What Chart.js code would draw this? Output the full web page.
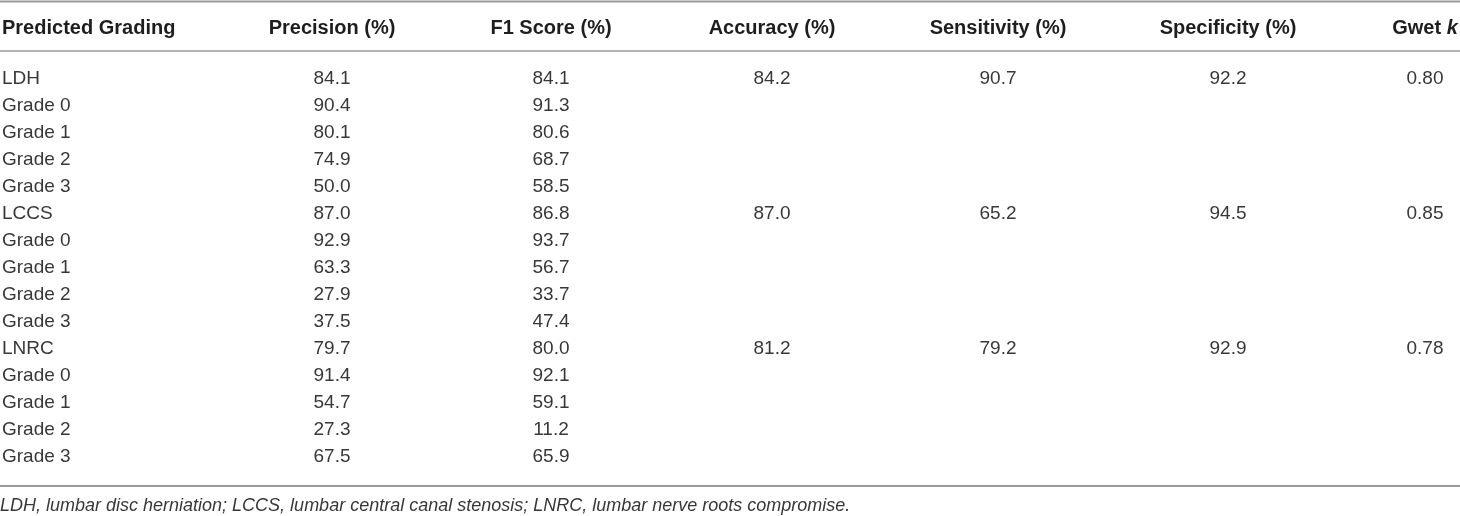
<!DOCTYPE html>
<html>
<head>
<meta charset="utf-8">
<script src="https://cdn.jsdelivr.net/npm/chart.js@4.4.0/dist/chart.umd.min.js"></script>
<style>
  html, body { margin: 0; padding: 0; background: #fff; }
  #wrap { width: 1460px; height: 516px; position: relative; }
</style>
</head>
<body>
<div id="wrap"><canvas id="table"></canvas></div>
<script>
// table data
const rowLabels = ['LDH','Grade 0','Grade 1','Grade 2','Grade 3',
                   'LCCS','Grade 0','Grade 1','Grade 2','Grade 3',
                   'LNRC','Grade 0','Grade 1','Grade 2','Grade 3'];
const precision = [84.1, 90.4, 80.1, 74.9, 50.0, 87.0, 92.9, 63.3, 27.9, 37.5, 79.7, 91.4, 54.7, 27.3, 67.5];
const f1Score   = [84.1, 91.3, 80.6, 68.7, 58.5, 86.8, 93.7, 56.7, 33.7, 47.4, 80.0, 92.1, 59.1, 11.2, 65.9];
// overall metrics only on the LDH / LCCS / LNRC rows
const groupRows   = [0, 5, 10];
const accuracy    = [84.2, 87.0, 81.2];
const sensitivity = [90.7, 65.2, 79.2];
const specificity = [92.2, 94.5, 92.9];
const gwetK       = [0.80, 0.85, 0.78];
const headers = ['Predicted Grading','Precision (%)','F1 Score (%)','Accuracy (%)','Sensitivity (%)','Specificity (%)','Gwet'];
const footnote = 'LDH, lumbar disc herniation; LCCS, lumbar central canal stenosis; LNRC, lumbar nerve roots compromise.';

// layout (x in px across the page, y in row units)
const colX = [2, 332, 551, 772, 998, 1228, 1425];
const rowH = 27, firstRow = 78.5;
const headerRow = (28 - firstRow) / rowH;
const topRule = (1.5 - firstRow) / rowH;
const headRule = (51 - firstRow) / rowH;
const bottomRule = (486 - firstRow) / rowH;
const noteRow = (505.5 - firstRow) / rowH;

const bodyFont = '19px "Liberation Sans", Arial, sans-serif';
const headFont = 'bold 20px "Liberation Sans", Arial, sans-serif';
const noteFont = 'italic 18px "Liberation Sans", Arial, sans-serif';

function col(values, rows, x, digits){
  return {
    data: values.map((v, i) => ({x: x, y: rows ? rows[i] : i})),
    texts: values.map(v => typeof v === 'number' ? v.toFixed(digits) : v),
    align: x === colX[0] ? 'left' : 'center',
    pointRadius: 0, showLine: false
  };
}

const tablePlugin = {
  id: 'tableText',
  afterDatasetsDraw(chart){
    const ctx = chart.ctx, xs = chart.scales.x, ys = chart.scales.y;
    ctx.save();
    // rules
    ctx.strokeStyle = '#9a9a9a';
    [[topRule, 2], [headRule, 1.5], [bottomRule, 2]].forEach(([r, w]) => {
      const y = ys.getPixelForValue(r);
      ctx.lineWidth = w;
      ctx.beginPath(); ctx.moveTo(0, y); ctx.lineTo(1460, y); ctx.stroke();
    });
    // header
    ctx.fillStyle = '#1e1e1e';
    ctx.font = headFont;
    ctx.textBaseline = 'middle';
    const hy = ys.getPixelForValue(headerRow);
    headers.forEach((h, i) => {
      const x = xs.getPixelForValue(colX[i]);
      if (i === 0){ ctx.textAlign = 'left'; ctx.fillText(h, x, hy); return; }
      if (i === headers.length - 1){
        const a = ctx.measureText(h + ' ').width;
        ctx.font = 'italic ' + headFont;
        const b = ctx.measureText('k').width;
        ctx.font = headFont;
        ctx.textAlign = 'left';
        ctx.fillText(h + ' ', x - (a + b) / 2, hy);
        ctx.font = 'italic ' + headFont;
        ctx.fillText('k', x - (a + b) / 2 + a, hy);
        ctx.font = headFont;
        return;
      }
      ctx.textAlign = 'center';
      ctx.fillText(h, x, hy);
    });
    // body cells
    ctx.font = bodyFont;
    ctx.fillStyle = '#383838';
    chart.data.datasets.forEach((ds, i) => {
      const meta = chart.getDatasetMeta(i);
      ctx.textAlign = ds.align;
      meta.data.forEach((pt, j) => ctx.fillText(ds.texts[j], pt.x, pt.y));
    });
    // footnote
    ctx.font = noteFont;
    ctx.textAlign = 'left';
    ctx.fillText(footnote, xs.getPixelForValue(0), ys.getPixelForValue(noteRow));
    ctx.restore();
  }
};

new Chart(document.getElementById('table'), {
  type: 'scatter',
  data: {
    datasets: [
      col(rowLabels, null, colX[0]),
      col(precision, null, colX[1], 1),
      col(f1Score, null, colX[2], 1),
      col(accuracy, groupRows, colX[3], 1),
      col(sensitivity, groupRows, colX[4], 1),
      col(specificity, groupRows, colX[5], 1),
      col(gwetK, groupRows, colX[6], 2)
    ]
  },
  options: {
    responsive: true,
    maintainAspectRatio: false,
    animation: false,
    layout: { padding: 0 },
    plugins: { legend: { display: false }, tooltip: { enabled: false } },
    scales: {
      x: { type: 'linear', display: false, min: 0, max: 1460 },
      y: { type: 'linear', display: false, reverse: true,
           min: -firstRow / rowH, max: (516 - firstRow) / rowH }
    }
  },
  plugins: [tablePlugin]
});
</script>
</body>
</html>
